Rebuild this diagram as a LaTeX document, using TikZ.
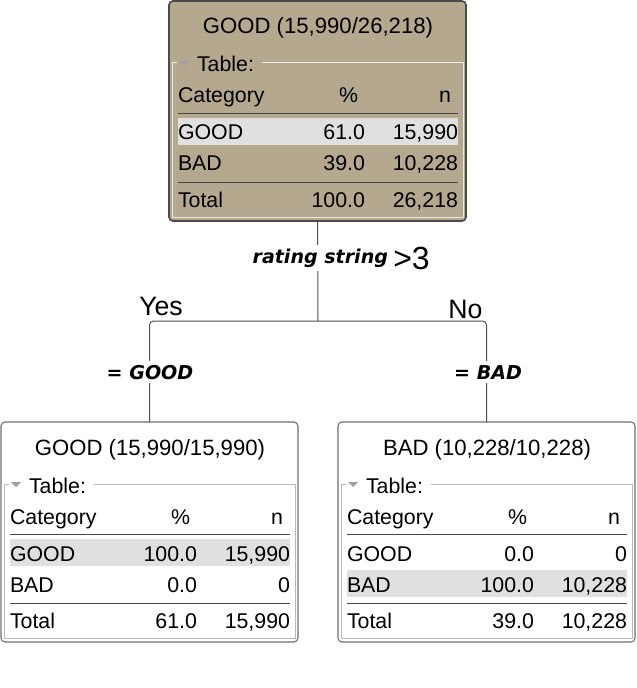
\documentclass[tikz,border=0pt]{standalone}
\usepackage{fontspec}
\setmainfont{Liberation Sans}
\newfontfamily\lblfont{DejaVu Sans}
\definecolor{rootfill}{HTML}{B4A88F}
\definecolor{hlcol}{HTML}{E0E0E0}
\definecolor{sepcol}{HTML}{454545}
\definecolor{rootborder}{HTML}{4A4A4A}
\definecolor{leafborder}{HTML}{707070}
\definecolor{conncol}{HTML}{505050}
\newcommand\jrows[9]{%
  \fill[hlcol] (9,{117+31*#2}) rectangle (289,{144+31*#2});
  \draw[grpline] (93,62) -- (294,62) -- (294,216) -- (3,216) -- (3,62) -- (8,62);
  \fill[gray!75] (10,60) -- (20,60) -- (15,65) -- cycle;
  \node[tx,font=\fontsize{16.6}{19}\selectfont,anchor=base] (#1-title) at (149,33) {#3};
  \node[tx,anchor=base west] (#1-tab) at (28,71) {Table:};
  \node[tx,anchor=base west] (#1-hc) at (9,102) {Category};
  \node[tx,anchor=base east] (#1-hp) at (189,102) {\%};
  \node[tx,anchor=base east] (#1-hn) at (282,102) {n};
  \draw[sepline] (9,112.5) -- (289,112.5);
  \node[tx,anchor=base west] (#1-gc) at (9,139) {GOOD};
  \node[tx,anchor=base east] (#1-gp) at (196,139) {#4};
  \node[tx,anchor=base east] (#1-gn) at (289,139) {#5};
  \node[tx,anchor=base west] (#1-bc) at (9,170) {BAD};
  \node[tx,anchor=base east] (#1-bp) at (196,170) {#6};
  \node[tx,anchor=base east] (#1-bn) at (289,170) {#7};
  \draw[sepline] (9,181) -- (289,181);
  \node[tx,anchor=base west] (#1-tc) at (9,206) {Total};
  \node[tx,anchor=base east] (#1-tp) at (196,206) {#8};
  \node[tx,anchor=base east] (#1-tn) at (289,206) {#9};
}
\begin{document}
\begin{tikzpicture}[x=0.75pt,y=-0.75pt,
  tx/.style={inner sep=0pt, outer sep=0pt, font=\fontsize{16}{19}\selectfont},
  sepline/.style={draw=sepcol, line width=0.75pt},
  grpline/.style={draw=gray!55, line width=0.75pt},
  boxbase/.style={rectangle, inner sep=0pt, outer sep=0pt, anchor=north west,
    minimum width=222.75pt, minimum height=165pt, rounded corners=3pt},
  rootbox/.style={boxbase, draw=rootborder, fill=rootfill, line width=1.2pt},
  leafbox/.style={boxbase, draw=leafborder, fill=white, line width=0.8pt},
  conn/.style={draw=conncol, line width=0.75pt},
  lbl/.style={font=\lblfont\bfseries\itshape\fontsize{14.3}{17}\selectfont, fill=white, inner xsep=1pt, inner ysep=3pt},
  yn/.style={font=\fontsize{20}{24}\selectfont, inner sep=0pt}]
\useasboundingbox (0,0) rectangle (636,688);
\fill[white] (0,0) rectangle (636,688);

% root
\begin{scope}[shift={(169,1)}]
  \node[rootbox] (root) at (0,0) {};
  \begin{scope}[grpline/.style={draw=white!75!rootfill, line width=0.75pt}]
  \jrows{root}{0}{GOOD (15,990/26,218)}{61.0}{15,990}{39.0}{10,228}{100.0}{26,218}
  \end{scope}
\end{scope}

% left leaf
\begin{scope}[shift={(1,422)}]
  \node[leafbox] (left) at (0,0) {};
  \jrows{left}{0}{GOOD (15,990/15,990)}{100.0}{15,990}{0.0}{0}{61.0}{15,990}
\end{scope}

% right leaf
\begin{scope}[shift={(338,422)}]
  \node[leafbox] (right) at (0,0) {};
  \jrows{right}{1}{BAD (10,228/10,228)}{0.0}{0}{100.0}{10,228}{39.0}{10,228}
\end{scope}

% connectors
\coordinate (split) at (318,321);
\draw[conn] (root.south) -- (split);
\draw[conn, rounded corners=3pt] (left.north) |- (split) -| (right.north);

% labels
\node[lbl, anchor=base west] (cond) at (251,263) {rating string};
\node[font=\fontsize{24}{28}\selectfont, anchor=base west, inner sep=0pt] (condval) at (393,269) {>3};
\node[yn, anchor=base west] (yeslbl) at (139,315) {Yes};
\node[yn, anchor=base west] (nolbl) at (448,318) {No};
\node[lbl, anchor=base] (lefteq) at (150,379) {= GOOD};
\node[lbl, anchor=base] (righteq) at (488,379) {= BAD};
\end{tikzpicture}
\end{document}
